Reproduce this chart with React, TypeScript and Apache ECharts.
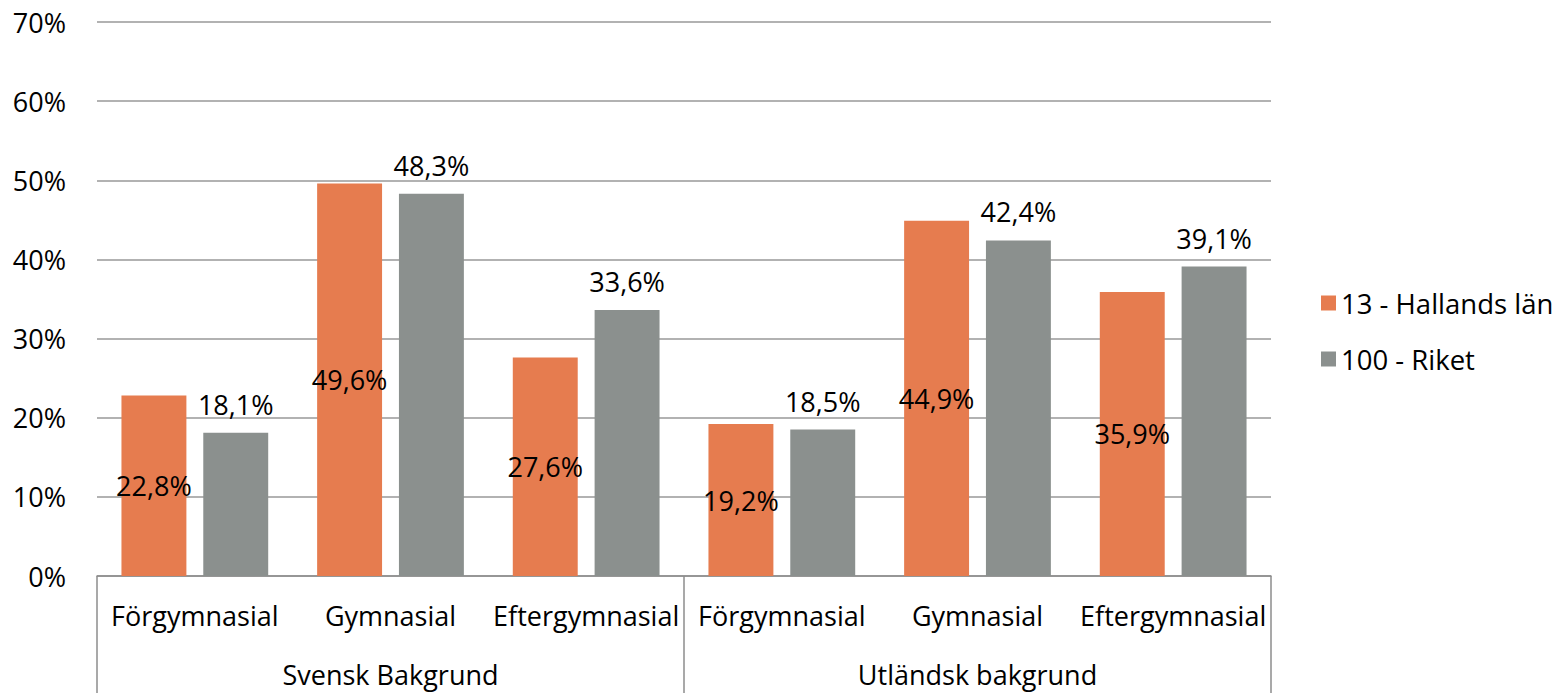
import React, { useEffect, useRef } from "react";
import * as echarts from "echarts";

const categories = ["Förgymnasial", "Gymnasial", "Eftergymnasial", "Förgymnasial", "Gymnasial", "Eftergymnasial"];
const groups = ["Svensk Bakgrund", "Utländsk bakgrund"];
const seriesNames = ["13 - Hallands län", "100 - Riket"];
const hallandValues = [22.8, 49.6, 27.6, 19.2, 44.9, 35.9];
const riketValues = [18.1, 48.3, 33.6, 18.5, 42.4, 39.1];
const yTicks = [0, 10, 20, 30, 40, 50, 60, 70];

const FONT = "'Open Sans', sans-serif";
const FS = 27;
const fmt = (v: number) => v.toFixed(1).replace(".", ",") + "%";

export default function App() {
  const ref = useRef<HTMLDivElement>(null);
  useEffect(() => {
    document.body.style.margin = "0";
    const chart = echarts.init(ref.current!, undefined, { renderer: "svg" });
    chart.setOption({
      animation: false,
      textStyle: { fontFamily: FONT },
      grid: { left: 97, right: 287, top: 22, bottom: 117 },
      legend: {
        orient: "vertical",
        left: 1316,
        top: 284,
        icon: "rect",
        itemWidth: 15,
        itemHeight: 15,
        itemGap: 28,
        textStyle: { fontFamily: FONT, fontSize: 27.5, color: "#000" },
        data: seriesNames,
      },
      xAxis: [
        {
          type: "category",
          data: categories,
          axisLine: { show: true, lineStyle: { color: "#8c8c8c", width: 1.5 } },
          axisTick: { show: false },
          axisLabel: { margin: 26, fontFamily: FONT, fontSize: FS, color: "#000", interval: 0 },
        },
        {
          type: "category",
          data: groups,
          position: "bottom",
          axisLine: { show: false },
          axisTick: { show: true, length: 117, interval: 0, lineStyle: { color: "#8c8c8c", width: 1.5 } },
          axisLabel: { margin: 83, fontFamily: FONT, fontSize: FS, lineHeight: 30, color: "#000", interval: 0 },
        },
      ],
      yAxis: {
        type: "value",
        min: yTicks[0],
        max: yTicks[yTicks.length - 1],
        interval: 10,
        axisLine: { show: false },
        axisTick: { show: false },
        splitLine: { lineStyle: { color: "#999999", width: 1.5 } },
        axisLabel: { margin: 31, fontFamily: FONT, fontSize: FS, color: "#000", formatter: (v: number) => v + "%" },
      },
      series: [
        {
          name: seriesNames[0],
          type: "bar",
          data: hallandValues,
          itemStyle: { color: "#E67C4F" },
          barCategoryGap: "25%",
          barGap: "26%",
          label: { show: true, position: "inside", color: "#000", fontFamily: FONT, fontSize: FS, formatter: (p: any) => fmt(p.value) },
        },
        {
          name: seriesNames[1],
          type: "bar",
          data: riketValues,
          itemStyle: { color: "#8B908E" },
          barCategoryGap: "25%",
          barGap: "26%",
          label: { show: true, position: "top", distance: 15, color: "#000", fontFamily: FONT, fontSize: FS, formatter: (p: any) => fmt(p.value) },
        },
      ],
    });
    return () => chart.dispose();
  }, []);
  return <div ref={ref} style={{ width: 1558, height: 693 }} />;
}
